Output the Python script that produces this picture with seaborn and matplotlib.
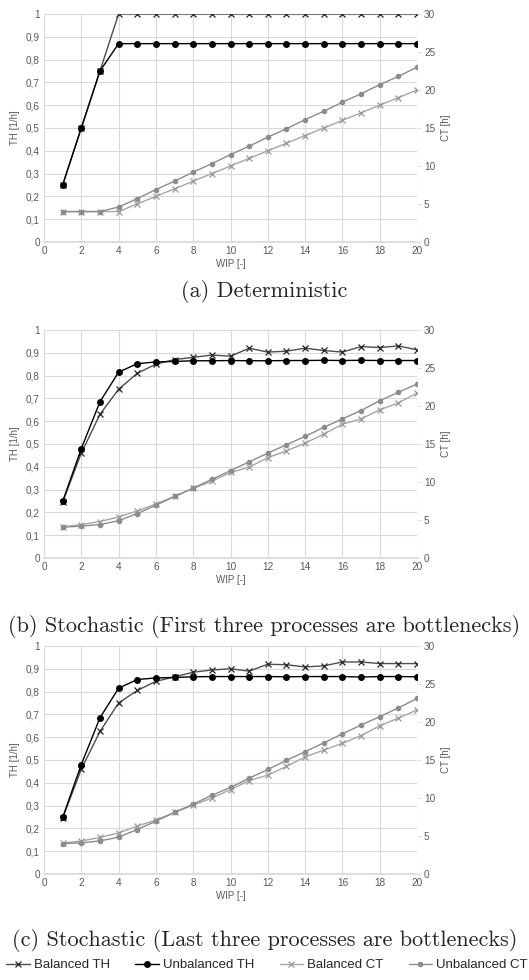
import matplotlib
matplotlib.use("Agg")
import matplotlib.pyplot as plt
from matplotlib.lines import Line2D
from matplotlib.ticker import FuncFormatter, MultipleLocator
import seaborn as sns

# WIP levels shared by all three experiments
wip = list(range(1, 21))

# (a) Deterministic
det_bal_th = [0.25, 0.5, 0.75, 1.0, 1.0, 1.0, 1.0, 1.0, 1.0, 1.0,
              1.0, 1.0, 1.0, 1.0, 1.0, 1.0, 1.0, 1.0, 1.0, 1.0]
det_unb_th = [0.25, 0.5, 0.75, 0.87, 0.87, 0.87, 0.87, 0.87, 0.87, 0.87,
              0.87, 0.87, 0.87, 0.87, 0.87, 0.87, 0.87, 0.87, 0.87, 0.87]
det_bal_ct = [4.0, 4.0, 4.0, 4.0, 5.0, 6.0, 7.0, 8.0, 9.0, 10.0,
              11.0, 12.0, 13.0, 14.0, 15.0, 16.0, 17.0, 18.0, 19.0, 20.0]
det_unb_ct = [4.0, 4.0, 4.0, 4.6, 5.7, 6.9, 8.0, 9.2, 10.3, 11.5,
              12.6, 13.8, 14.9, 16.1, 17.2, 18.4, 19.5, 20.7, 21.8, 23.0]

# (b) Stochastic, first three processes are bottlenecks
first_bal_th = [0.245, 0.46, 0.63, 0.74, 0.81, 0.85, 0.87, 0.88, 0.89, 0.885,
                0.92, 0.903, 0.907, 0.92, 0.91, 0.903, 0.927, 0.923, 0.93, 0.913]
first_unb_th = [0.248, 0.48, 0.685, 0.815, 0.852, 0.86, 0.862, 0.865, 0.865, 0.866,
                0.865, 0.865, 0.866, 0.866, 0.867, 0.866, 0.867, 0.866, 0.866, 0.866]
first_bal_ct = [4.1, 4.4, 4.8, 5.4, 6.2, 7.1, 8.1, 9.15, 10.1, 11.25,
                11.95, 13.2, 14.1, 15.1, 16.3, 17.6, 18.3, 19.5, 20.4, 21.7]
first_unb_ct = [4.05, 4.2, 4.4, 4.9, 5.85, 6.95, 8.1, 9.2, 10.35, 11.5,
                12.65, 13.8, 14.9, 16.0, 17.2, 18.3, 19.4, 20.7, 21.8, 22.9]

# (c) Stochastic, last three processes are bottlenecks
last_bal_th = [0.245, 0.46, 0.625, 0.75, 0.805, 0.845, 0.865, 0.885, 0.895, 0.9,
               0.89, 0.92, 0.918, 0.908, 0.913, 0.93, 0.93, 0.923, 0.923, 0.923]
last_unb_th = [0.248, 0.48, 0.685, 0.815, 0.853, 0.86, 0.862, 0.865, 0.866, 0.866,
               0.866, 0.866, 0.865, 0.866, 0.866, 0.866, 0.864, 0.866, 0.866, 0.865]
last_bal_ct = [4.05, 4.35, 4.8, 5.4, 6.3, 7.1, 8.1, 9.05, 10.0, 11.1,
               12.3, 13.0, 14.15, 15.4, 16.3, 17.2, 18.2, 19.5, 20.5, 21.6]
last_unb_ct = [4.0, 4.1, 4.35, 4.85, 5.85, 6.95, 8.1, 9.2, 10.35, 11.4,
               12.6, 13.75, 14.95, 16.1, 17.25, 18.45, 19.6, 20.7, 21.85, 23.1]

panels = [
    ("(a) Deterministic", det_bal_th, det_unb_th, det_bal_ct, det_unb_ct),
    ("(b) Stochastic (First three processes are bottlenecks)",
     first_bal_th, first_unb_th, first_bal_ct, first_unb_ct),
    ("(c) Stochastic (Last three processes are bottlenecks)",
     last_bal_th, last_unb_th, last_bal_ct, last_unb_ct),
]

series_labels = ["Balanced TH", "Unbalanced TH", "Balanced CT", "Unbalanced CT"]
styles = [
    dict(color="#4d4d4d", marker="x", markersize=5, mew=0.9, lw=1.0, mec="#262626"),
    dict(color="#000000", marker="o", markersize=5, mew=0, lw=1.0, mec="#000000"),
    dict(color="#a6a6a6", marker="x", markersize=5, mew=0.9, lw=1.0, mec="#999999"),
    dict(color="#8c8c8c", marker="o", markersize=4, mew=0, lw=1.0, mec="#808080"),
]

sns.set_theme(style="white")
plt.rcParams["font.family"] = ["Liberation Sans", "DejaVu Sans"]

fig = plt.figure(figsize=(5.29, 9.8), dpi=100)

tick_color = "#595959"
grid_color = "#d9d9d9"
comma = FuncFormatter(lambda v, p: ("%g" % round(v, 2)).replace(".", ","))

ax_rows = [(0.9857, 0.7531), (0.6633, 0.4306), (0.3408, 0.1082)]
caption_y = [0.703, 0.361, 0.040]
left, right = 44 / 529, 417 / 529

for (title, bal_th, unb_th, bal_ct, unb_ct), (top, bottom), cy in zip(panels, ax_rows, caption_y):
    ax = fig.add_axes([left, bottom, right - left, top - bottom])
    ax2 = ax.twinx()

    for vals, axis, st in [(bal_th, ax, styles[0]), (unb_th, ax, styles[1]),
                           (bal_ct, ax2, styles[2]), (unb_ct, ax2, styles[3])]:
        sns.lineplot(x=wip, y=vals, ax=axis, color=st["color"], marker=st["marker"],
                     markersize=st["markersize"], markeredgewidth=st["mew"],
                     markeredgecolor=st["mec"], markerfacecolor=st["color"],
                     linewidth=st["lw"], legend=False)

    ax.set_xlim(0, 20)
    ax.set_ylim(0, 1)
    ax2.set_ylim(0, 30)
    ax.xaxis.set_major_locator(MultipleLocator(2))
    ax.yaxis.set_major_locator(MultipleLocator(0.1))
    ax2.yaxis.set_major_locator(MultipleLocator(5))
    ax.yaxis.set_major_formatter(comma)

    ax.grid(True, color=grid_color, linewidth=0.8)
    ax.set_axisbelow(True)
    for a in (ax, ax2):
        for s in a.spines.values():
            s.set_visible(False)
    ax.spines["bottom"].set_visible(True)
    ax.spines["bottom"].set_color(grid_color)

    ax.tick_params(axis="both", length=0, labelsize=7.2, colors=tick_color, pad=3)
    ax2.tick_params(axis="y", length=3, width=0.6, color=grid_color, labelsize=7.2,
                    labelcolor=tick_color, pad=2)
    ax2.grid(False)

    ax.set_xlabel("WIP [-]", fontsize=7, color=tick_color, labelpad=2)
    ax.set_ylabel("TH [1/h]", fontsize=7, color=tick_color, labelpad=4)
    ax2.set_ylabel("CT [h]", fontsize=7, color=tick_color, labelpad=4)

    fig.text(0.5, cy, title, ha="center", va="center", fontsize=16, family="cmr10")

handles = [Line2D([0], [0], color=st["color"], marker=st["marker"], markersize=st["markersize"],
                  markeredgewidth=st["mew"], markeredgecolor=st["mec"],
                  markerfacecolor=st["color"], lw=st["lw"]) for st in styles]
fig.legend(handles, series_labels, loc="center", bbox_to_anchor=(0.505, 0.015), ncol=4,
           frameon=False, fontsize=9.5, handlelength=1.8, handletextpad=0.3,
           columnspacing=1.9, labelcolor="#262626", borderaxespad=0, borderpad=0)

fig.savefig("out.png", dpi=100)
